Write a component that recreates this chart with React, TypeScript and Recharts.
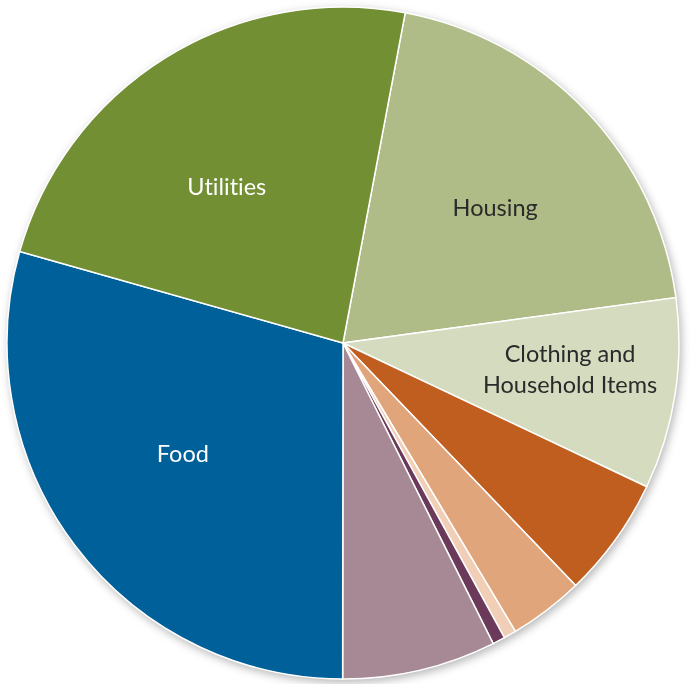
import React from "react";
import { PieChart, Pie, Cell } from "recharts";

const categories = [
  "Housing",
  "Clothing and Household Items",
  "Transportation",
  "Health Care",
  "Education",
  "Personal Care",
  "Other",
  "Food",
  "Utilities",
];
const values = [19.9, 9.2, 5.8, 3.6, 0.6, 0.6, 7.4, 29.4, 23.6];
const colors = [
  "#B0BC87",
  "#D5DBBF",
  "#C05E1F",
  "#E0A57B",
  "#F0CFB6",
  "#6B3A5A",
  "#A68995",
  "#00609A",
  "#728F33",
];
const labelLines = [["Housing"], ["Clothing and", "Household Items"], [], [], [], [], [], ["Food"], ["Utilities"]];
const labelColors = ["#2a2a2a", "#2a2a2a", "", "", "", "", "", "#ffffff", "#ffffff"];
const labelRadius = [0.607, 0.68, 0, 0, 0, 0, 0, 0.578, 0.581];
const labelAngleShift = [-1.8, 2.5, 0, 0, 0, 0, 0, -2.6, 4.75];

const data = categories.map((name, i) => ({ name, value: values[i] }));

const RAD = Math.PI / 180;

const renderLabel = (props: any) => {
  const { cx, cy, midAngle, outerRadius, index } = props;
  const lines = labelLines[index];
  if (!lines || lines.length === 0) return null;
  const r = outerRadius * labelRadius[index];
  const a = midAngle + labelAngleShift[index];
  const x = cx + r * Math.cos(-a * RAD);
  const y = cy + r * Math.sin(-a * RAD);
  const lh = 31;
  const y0 = y - ((lines.length - 1) * lh) / 2;
  return (
    <text
      x={x}
      y={y0}
      fill={labelColors[index]}
      textAnchor="middle"
      dominantBaseline="central"
      fontFamily="Lato, 'Open Sans', sans-serif"
      fontSize={23.5}
      style={{ fontVariantLigatures: "none" }}
    >
      {lines.map((l, k) => (
        <tspan key={k} x={x} y={y0 + k * lh} dominantBaseline="central">
          {l}
        </tspan>
      ))}
    </text>
  );
};

export default function App() {
  return (
    <div
      style={{
        position: "absolute",
        left: 0,
        top: 0,
        width: 690,
        height: 684,
        background: "#ffffff",
      }}
    >
      <div style={{ filter: "drop-shadow(2px 3px 4px rgba(0,0,0,0.28))" }}>
        <PieChart width={690} height={684} margin={{ top: 0, right: 0, bottom: 0, left: 0 }}>
          <Pie
            data={data}
            dataKey="value"
            nameKey="name"
            cx={343}
            cy={343}
            outerRadius={336}
            startAngle={79.33}
            endAngle={-280.67}
            stroke="#ffffff"
            strokeWidth={1.5}
            label={renderLabel}
            labelLine={false}
            isAnimationActive={false}
          >
            {data.map((d, i) => (
              <Cell key={d.name} fill={colors[i]} />
            ))}
          </Pie>
        </PieChart>
      </div>
    </div>
  );
}
